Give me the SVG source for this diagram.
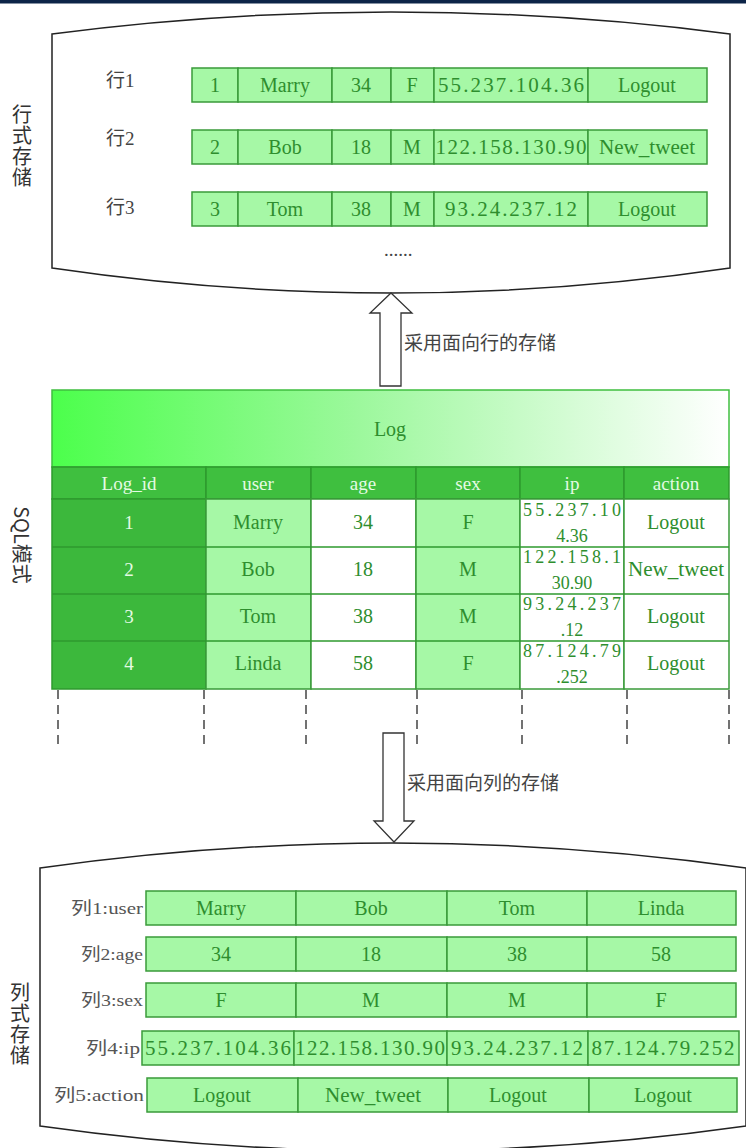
<svg xmlns="http://www.w3.org/2000/svg" width="746" height="1148" viewBox="0 0 746 1148">
<defs>
<linearGradient id="g" x1="0" y1="0" x2="1" y2="0">
<stop offset="0" stop-color="#4cff4c"/>
<stop offset="0.45" stop-color="#9cf89c"/>
<stop offset="1" stop-color="#ffffff"/>
</linearGradient>
<style>
.box{fill:#fff;stroke:#222;stroke-width:1.5}
.c{fill:#a6f8a6;stroke:#3a9a3a;stroke-width:1.5}
.w{fill:#fff;stroke:#3a9a3a;stroke-width:1.5}
.h{fill:#3fbf3f;stroke:#2e9a2e;stroke-width:1.5}
.d{fill:#3cb83c;stroke:#2e9a2e;stroke-width:1.5}
.t{font-family:"Liberation Serif","Noto Sans CJK SC",serif;font-size:20px;fill:#2e8e2e;text-anchor:middle}
.ip{font-size:21px}
.ts{font-family:"Liberation Serif","Noto Sans CJK SC",serif;font-size:18px;fill:#2e8e2e;text-anchor:middle}
.th{font-family:"Liberation Serif","Noto Sans CJK SC",serif;font-size:19px;fill:#e4fbe4;text-anchor:middle}
.lb{font-family:"Liberation Serif","Noto Sans CJK SC",serif;font-size:19px;fill:#444}
.lc{font-family:"Liberation Serif","Noto Sans CJK SC",serif;font-size:17px;fill:#555;text-anchor:end}
.v{font-family:"Noto Sans CJK SC",sans-serif;font-size:20px;fill:#333;writing-mode:vertical-rl;letter-spacing:1px}
.ar{fill:#fff;stroke:#333;stroke-width:1.3}
.dash{stroke:#444;stroke-width:1.5;stroke-dasharray:9 6}
</style>
</defs>
<rect x="0" y="0" width="746" height="3.5" fill="#0c2448"/>

<g id="row-storage">
<path class="box" d="M52,34 Q391,-10 730,34 L730,268 Q391,318 52,268 Z"/>
<text class="v" x="22" y="104">行式存储</text>
<text class="lb" x="106" y="87">行1</text>
<text class="lb" x="106" y="145">行2</text>
<text class="lb" x="106" y="214">行3</text>
<g id="row1">
<rect class="c" x="192" y="68" width="46" height="34"/><rect class="c" x="238" y="68" width="94" height="34"/><rect class="c" x="332" y="68" width="59" height="34"/><rect class="c" x="391" y="68" width="43" height="34"/><rect class="c" x="434" y="68" width="154" height="34"/><rect class="c" x="588" y="68" width="119" height="34"/>
<text class="t" x="215" y="92">1</text><text class="t" x="285" y="92">Marry</text><text class="t" x="361" y="92">34</text><text class="t" x="412" y="92">F</text><text class="t ip" x="511" y="92" textLength="146" lengthAdjust="spacing">55.237.104.36</text><text class="t" x="647" y="92">Logout</text>
</g>
<g id="row2">
<rect class="c" x="192" y="130" width="46" height="34"/><rect class="c" x="238" y="130" width="94" height="34"/><rect class="c" x="332" y="130" width="59" height="34"/><rect class="c" x="391" y="130" width="43" height="34"/><rect class="c" x="434" y="130" width="154" height="34"/><rect class="c" x="588" y="130" width="119" height="34"/>
<text class="t" x="215" y="154">2</text><text class="t" x="285" y="154">Bob</text><text class="t" x="361" y="154">18</text><text class="t" x="412" y="154">M</text><text class="t ip" x="511" y="154" textLength="151" lengthAdjust="spacing">122.158.130.90</text><text class="t" x="647" y="154" textLength="96" lengthAdjust="spacingAndGlyphs">New_tweet</text>
</g>
<g id="row3">
<rect class="c" x="192" y="192" width="46" height="34"/><rect class="c" x="238" y="192" width="94" height="34"/><rect class="c" x="332" y="192" width="59" height="34"/><rect class="c" x="391" y="192" width="43" height="34"/><rect class="c" x="434" y="192" width="154" height="34"/><rect class="c" x="588" y="192" width="119" height="34"/>
<text class="t" x="215" y="216">3</text><text class="t" x="285" y="216">Tom</text><text class="t" x="361" y="216">38</text><text class="t" x="412" y="216">M</text><text class="t ip" x="511" y="216" textLength="132" lengthAdjust="spacing">93.24.237.12</text><text class="t" x="647" y="216">Logout</text>
</g>
<text class="lb" x="384" y="256" font-size="18">......</text>
</g>

<g id="connectors">
<path class="ar" d="M391,293 L412,313 L401,313 L401,386 L380,386 L380,313 L370,313 Z"/>
<text class="lb" x="404" y="350" font-size="20">采用面向行的存储</text>
<path class="ar" d="M383,733 L404,733 L404,821 L414,821 L394,842 L374,821 L383,821 Z"/>
<text class="lb" x="407" y="790" font-size="20">采用面向列的存储</text>
<line class="dash" x1="58" y1="690" x2="58" y2="746"/>
<line class="dash" x1="204" y1="690" x2="204" y2="746"/>
<line class="dash" x1="306" y1="690" x2="306" y2="746"/>
<line class="dash" x1="417" y1="690" x2="417" y2="746"/>
<line class="dash" x1="522" y1="690" x2="522" y2="746"/>
<line class="dash" x1="627" y1="690" x2="627" y2="746"/>
<line class="dash" x1="729" y1="690" x2="729" y2="746"/>
</g>

<g id="sql-table">
<rect x="52" y="390" width="677" height="77" fill="url(#g)" stroke="#3fbf3f" stroke-width="1.5"/>
<text class="t" x="390" y="436">Log</text>
<g id="header">
<rect class="h" x="52" y="467" width="154" height="32"/><rect class="h" x="206" y="467" width="105" height="32"/><rect class="h" x="311" y="467" width="105" height="32"/><rect class="h" x="416" y="467" width="104" height="32"/><rect class="h" x="520" y="467" width="104" height="32"/><rect class="h" x="624" y="467" width="105" height="32"/>
<text class="th" x="129" y="490">Log_id</text><text class="th" x="258" y="490">user</text><text class="th" x="363" y="490">age</text><text class="th" x="468" y="490">sex</text><text class="th" x="572" y="490">ip</text><text class="th" x="676" y="490">action</text>
</g>
<g id="data-rows">
<rect class="d" x="52" y="499" width="154" height="190"/>
<rect class="c" x="206" y="499" width="105" height="190"/>
<rect class="w" x="311" y="499" width="105" height="190"/>
<rect class="c" x="416" y="499" width="104" height="190"/>
<rect class="w" x="520" y="499" width="104" height="190"/>
<rect class="w" x="624" y="499" width="105" height="190"/>
<line x1="52" y1="547" x2="729" y2="547" stroke="#2e9a2e" stroke-width="1.5"/>
<line x1="52" y1="594" x2="729" y2="594" stroke="#2e9a2e" stroke-width="1.5"/>
<line x1="52" y1="641" x2="729" y2="641" stroke="#2e9a2e" stroke-width="1.5"/>
<text class="th" x="129" y="529">1</text><text class="t" x="258" y="529">Marry</text><text class="t" x="363" y="529">34</text><text class="t" x="468" y="529">F</text><text class="t" x="676" y="529">Logout</text>
<text class="ts" x="572" y="516" textLength="98" lengthAdjust="spacing">55.237.10</text><text class="ts" x="572" y="542">4.36</text>
<text class="th" x="129" y="576">2</text><text class="t" x="258" y="576">Bob</text><text class="t" x="363" y="576">18</text><text class="t" x="468" y="576">M</text><text class="t" x="676" y="576" textLength="96" lengthAdjust="spacingAndGlyphs">New_tweet</text>
<text class="ts" x="572" y="563" textLength="98" lengthAdjust="spacing">122.158.1</text><text class="ts" x="572" y="589">30.90</text>
<text class="th" x="129" y="623">3</text><text class="t" x="258" y="623">Tom</text><text class="t" x="363" y="623">38</text><text class="t" x="468" y="623">M</text><text class="t" x="676" y="623">Logout</text>
<text class="ts" x="572" y="610" textLength="98" lengthAdjust="spacing">93.24.237</text><text class="ts" x="572" y="636">.12</text>
<text class="th" x="129" y="670">4</text><text class="t" x="258" y="670">Linda</text><text class="t" x="363" y="670">58</text><text class="t" x="468" y="670">F</text><text class="t" x="676" y="670">Logout</text>
<text class="ts" x="572" y="657" textLength="98" lengthAdjust="spacing">87.124.79</text><text class="ts" x="572" y="683">.252</text>
</g>
<text transform="translate(14,545) rotate(90)" x="0" y="0" font-family="Noto Sans CJK SC, sans-serif" font-size="20" fill="#333" text-anchor="middle">SQL模式</text>
</g>

<g id="column-storage">
<path class="box" d="M40,868 Q393,818 746,868 L746,1126 Q393,1176 40,1126 Z"/>
<text class="v" x="20" y="982">列式存储</text>
<g id="col1">
<text class="lc" x="143" y="914" textLength="72" lengthAdjust="spacingAndGlyphs">列1:user</text>
<rect class="c" x="146" y="891" width="150" height="34"/><rect class="c" x="296" y="891" width="151" height="34"/><rect class="c" x="447" y="891" width="140" height="34"/><rect class="c" x="587" y="891" width="149" height="34"/>
<text class="t" x="221" y="915">Marry</text><text class="t" x="371" y="915">Bob</text><text class="t" x="517" y="915">Tom</text><text class="t" x="661" y="915">Linda</text>
</g>
<g id="col2">
<text class="lc" x="143" y="960" textLength="62" lengthAdjust="spacingAndGlyphs">列2:age</text>
<rect class="c" x="146" y="937" width="150" height="34"/><rect class="c" x="296" y="937" width="151" height="34"/><rect class="c" x="447" y="937" width="140" height="34"/><rect class="c" x="587" y="937" width="149" height="34"/>
<text class="t" x="221" y="961">34</text><text class="t" x="371" y="961">18</text><text class="t" x="517" y="961">38</text><text class="t" x="661" y="961">58</text>
</g>
<g id="col3">
<text class="lc" x="143" y="1006" textLength="62" lengthAdjust="spacingAndGlyphs">列3:sex</text>
<rect class="c" x="146" y="983" width="150" height="34"/><rect class="c" x="296" y="983" width="151" height="34"/><rect class="c" x="447" y="983" width="140" height="34"/><rect class="c" x="587" y="983" width="149" height="34"/>
<text class="t" x="221" y="1007">F</text><text class="t" x="371" y="1007">M</text><text class="t" x="517" y="1007">M</text><text class="t" x="661" y="1007">F</text>
</g>
<g id="col4">
<text class="lc" x="140" y="1054" textLength="54" lengthAdjust="spacingAndGlyphs">列4:ip</text>
<rect class="c" x="142" y="1031" width="152" height="34"/><rect class="c" x="294" y="1031" width="153" height="34"/><rect class="c" x="447" y="1031" width="141" height="34"/><rect class="c" x="588" y="1031" width="151" height="34"/>
<text class="t ip" x="218" y="1055" textLength="146" lengthAdjust="spacing">55.237.104.36</text><text class="t ip" x="370" y="1055" textLength="150" lengthAdjust="spacing">122.158.130.90</text><text class="t ip" x="517" y="1055" textLength="132" lengthAdjust="spacing">93.24.237.12</text><text class="t ip" x="663" y="1055" textLength="143" lengthAdjust="spacing">87.124.79.252</text>
</g>
<g id="col5">
<text class="lc" x="144" y="1101" textLength="90" lengthAdjust="spacingAndGlyphs">列5:action</text>
<rect class="c" x="147" y="1078" width="151" height="34"/><rect class="c" x="298" y="1078" width="150" height="34"/><rect class="c" x="448" y="1078" width="141" height="34"/><rect class="c" x="589" y="1078" width="148" height="34"/>
<text class="t" x="222" y="1102">Logout</text><text class="t" x="373" y="1102" textLength="96" lengthAdjust="spacingAndGlyphs">New_tweet</text><text class="t" x="518" y="1102">Logout</text><text class="t" x="663" y="1102">Logout</text>
</g>
</g>
</svg>
